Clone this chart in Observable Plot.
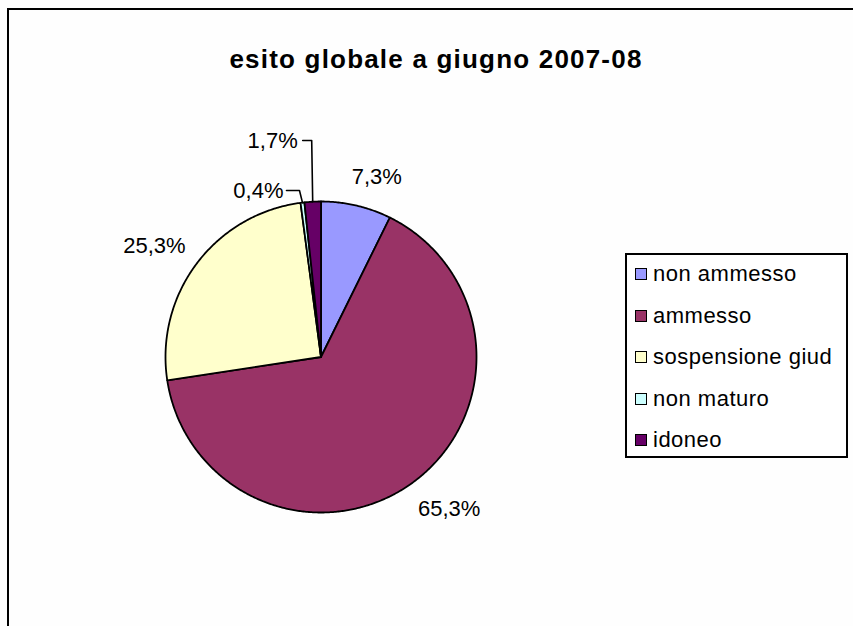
<!DOCTYPE html>
<html>
<head>
<meta charset="utf-8">
<script src="https://cdn.jsdelivr.net/npm/d3@7"></script>
<script src="https://cdn.jsdelivr.net/npm/@observablehq/plot@0.6"></script>
<style>
  html, body { margin: 0; padding: 0; background: #fff; overflow: hidden; }
  #wrap { position: relative; width: 853px; height: 626px; overflow: hidden; background: #fefefe; font-family: "Liberation Sans", Arial, sans-serif; }
  #frame { position: absolute; left: 7px; top: 8px; width: 1000px; height: 1000px; border: 2px solid #000; box-sizing: border-box; }
  #title { position: absolute; left: 0; top: 44px; width: 872px; text-align: center; font-weight: bold; font-size: 26px; letter-spacing: 1.2px; line-height: normal; color: #000; }
  #chart { position: absolute; left: 0; top: 0; }
  #legend { position: absolute; left: 625px; top: 253px; width: 223px; height: 205px; border: 2px solid #000; box-sizing: border-box; background: #fff; }
  .item { position: absolute; left: 0; height: 24px; display: flex; align-items: center; font-size: 22px; letter-spacing: 0.5px; color: #000; white-space: nowrap; }
  .sw { width: 12px; height: 12px; border: 1.5px solid #000; box-sizing: border-box; margin-left: 8px; margin-right: 6px; }
</style>
</head>
<body>
<div id="wrap">
  <div id="frame"></div>
  <div id="chart"></div>
  <div id="title"></div>
  <div id="legend"></div>
</div>
<script>
// ---- data ----
const titleText = "esito globale a giugno 2007-08";
const categories = ["non ammesso", "ammesso", "sospensione giud", "non maturo", "idoneo"];
const values = [7.3, 65.3, 25.3, 0.4, 1.7];
const valueLabels = ["7,3%", "65,3%", "25,3%", "0,4%", "1,7%"];
const colors = ["#9999FF", "#993366", "#FFFFCC", "#CCFFFF", "#660066"];

// ---- layout (pixels / unit radius) ----
const W = 853, H = 626, CX = 320.5, CY = 356.5, R = 155.5;
// label placement per slice: polar (angle nudge in degrees, distance in radii) or leader line
const labelLayout = [
  {type: "polar", dAngle: 4.1, dist: 1.209},
  {type: "polar", dAngle: -3.9, dist: 1.28},
  {type: "polar", dAngle: -3.3, dist: 1.286},
  {type: "leader", rise: 0.078, elbow: 3 / R, arm: 13 / R, gap: 3 / R},
  {type: "leader", rise: 0.394, elbow: 1 / R, arm: 9 / R, gap: 5 / R}
];

const rows = categories.map((c, i) => ({cat: c, value: values[i], label: valueLabels[i]}));
const arcs = d3.pie().sort(null).value(d => d.value).startAngle(0).endAngle(2 * Math.PI)(rows);

// slice polygons (unit radius, y pointing down)
const slicePts = [];
arcs.forEach(a => {
  const cat = a.data.cat;
  slicePts.push({cat, x: 0, y: 0});
  const n = Math.max(2, Math.ceil((a.endAngle - a.startAngle) / (Math.PI / 360)));
  for (let k = 0; k <= n; k++) {
    const t = a.startAngle + (a.endAngle - a.startAngle) * k / n;
    slicePts.push({cat, x: Math.sin(t), y: -Math.cos(t)});
  }
  slicePts.push({cat, x: 0, y: 0});
});

const midLabels = [], endLabels = [], leaderPts = [];
arcs.forEach((a, i) => {
  const mid = (a.startAngle + a.endAngle) / 2;
  const L = labelLayout[i];
  if (L.type === "polar") {
    const t = mid + L.dAngle * Math.PI / 180;
    midLabels.push({x: L.dist * Math.sin(t), y: -L.dist * Math.cos(t), text: a.data.label});
  } else {
    const ex = Math.sin(mid), ey = -Math.cos(mid);
    const ly = ey - L.rise;
    const bx = ex - L.elbow;
    const hx = bx - L.arm;
    leaderPts.push({id: i, x: ex, y: ey}, {id: i, x: bx, y: ly}, {id: i, x: hx, y: ly});
    endLabels.push({x: hx - L.gap, y: ly, text: a.data.label});
  }
});

const font = "Liberation Sans, Arial, sans-serif";
const chart = Plot.plot({
  width: W, height: H, margin: 0,
  style: {background: "transparent"},
  x: {domain: [-CX / R, (W - CX) / R], range: [0, W], axis: null},
  y: {domain: [-CY / R, (H - CY) / R], range: [0, H], axis: null},
  color: {type: "ordinal", domain: categories, range: colors},
  marks: [
    Plot.line(slicePts, {x: "x", y: "y", z: "cat", fill: "cat", stroke: "#000", strokeWidth: 1.8, strokeLinejoin: "round", curve: "linear"}),
    Plot.line(leaderPts, {x: "x", y: "y", z: "id", stroke: "#000", strokeWidth: 1.6, curve: "linear"}),
    Plot.text(midLabels, {x: "x", y: "y", text: "text", fontSize: 22, fontFamily: font, fill: "#000", textAnchor: "middle"}),
    Plot.text(endLabels, {x: "x", y: "y", text: "text", fontSize: 22, fontFamily: font, fill: "#000", textAnchor: "end"})
  ]
});
document.getElementById("chart").appendChild(chart);

document.getElementById("title").textContent = titleText;

// legend
const legend = document.getElementById("legend");
const rowCenters0 = 274, rowStep = 41.5;
categories.forEach((c, i) => {
  const it = document.createElement("div");
  it.className = "item";
  it.style.top = (rowCenters0 + i * rowStep - 12 - 253 - 2) + "px";
  const sw = document.createElement("span");
  sw.className = "sw";
  sw.style.background = colors[i];
  const tx = document.createElement("span");
  tx.textContent = c;
  it.appendChild(sw); it.appendChild(tx);
  legend.appendChild(it);
});
</script>
</body>
</html>
